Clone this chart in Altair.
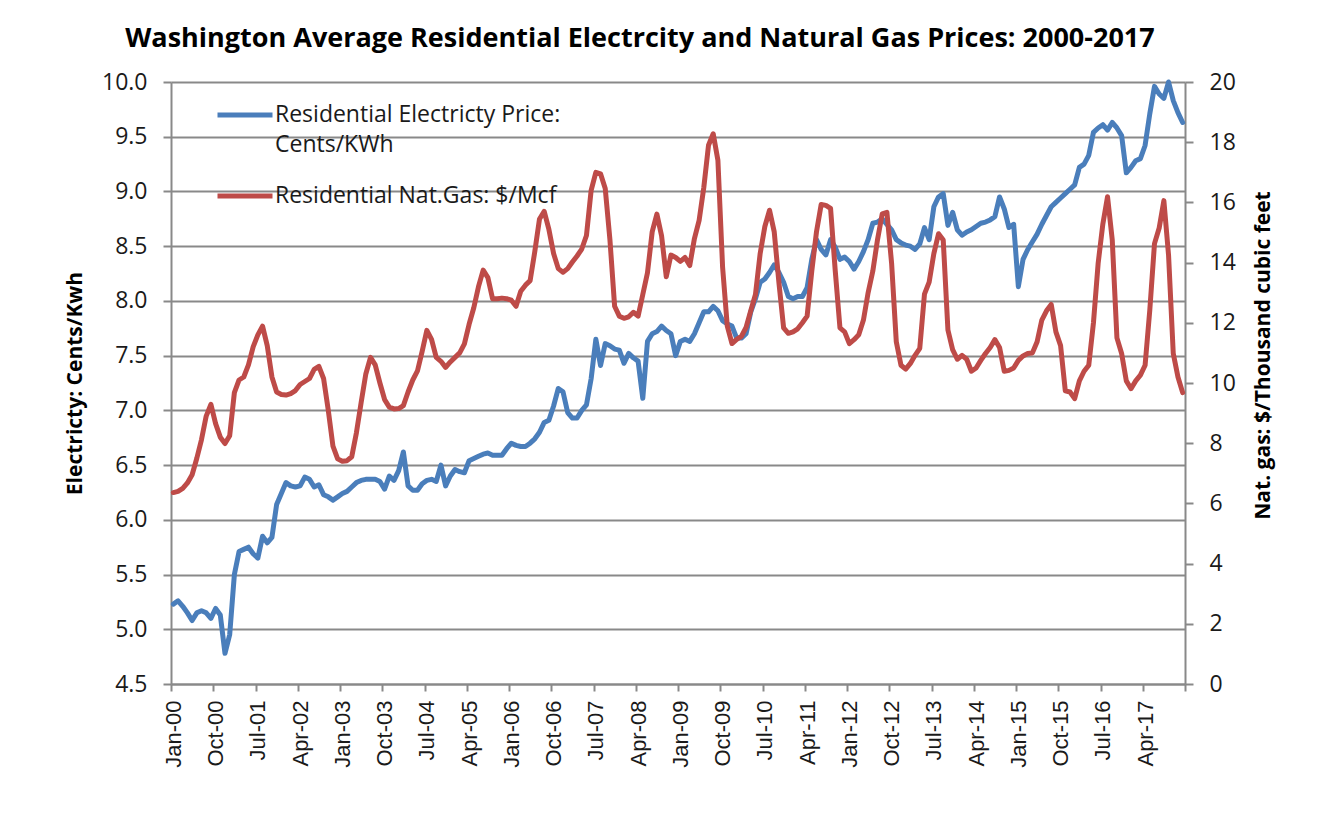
import json
import altair as alt
import pandas as pd

# ---------------- data ----------------
months = list(pd.date_range("2000-01-01", periods=216, freq="MS").strftime("%b-%y"))

elec = [
    5.23, 5.26, 5.21, 5.15, 5.08, 5.15, 5.17, 5.15, 5.10, 5.19, 5.13, 4.78,
    4.95, 5.50, 5.71, 5.73, 5.75, 5.69, 5.65, 5.85, 5.79, 5.84, 6.14, 6.24,
    6.34, 6.31, 6.30, 6.31, 6.39, 6.37, 6.30, 6.32, 6.23, 6.21, 6.18, 6.21,
    6.24, 6.26, 6.30, 6.34, 6.36, 6.37, 6.37, 6.37, 6.35, 6.28, 6.40, 6.36,
    6.45, 6.62, 6.31, 6.27, 6.27, 6.33, 6.36, 6.37, 6.35, 6.50, 6.31, 6.40,
    6.46, 6.44, 6.43, 6.54, 6.56, 6.58, 6.60, 6.61, 6.59, 6.59, 6.59, 6.65,
    6.70, 6.68, 6.67, 6.67, 6.70, 6.74, 6.80, 6.89, 6.91, 7.04, 7.20, 7.17,
    6.98, 6.93, 6.93, 7.00, 7.05, 7.29, 7.65, 7.41, 7.61, 7.59, 7.56, 7.55,
    7.43, 7.52, 7.48, 7.45, 7.11, 7.63, 7.70, 7.72, 7.77, 7.73, 7.70, 7.50,
    7.63, 7.65, 7.63, 7.70, 7.80, 7.90, 7.90, 7.95, 7.91, 7.82, 7.79, 7.77,
    7.66, 7.66, 7.70, 7.90, 8.02, 8.17, 8.20, 8.26, 8.33, 8.26, 8.17, 8.04,
    8.02, 8.04, 8.04, 8.12, 8.38, 8.56, 8.47, 8.42, 8.56, 8.49, 8.38, 8.40,
    8.36, 8.29, 8.36, 8.45, 8.56, 8.71, 8.72, 8.75, 8.70, 8.65, 8.56, 8.53,
    8.51, 8.50, 8.47, 8.52, 8.67, 8.56, 8.86, 8.95, 8.98, 8.69, 8.81, 8.65,
    8.60, 8.63, 8.65, 8.68, 8.71, 8.72, 8.74, 8.77, 8.95, 8.84, 8.67, 8.70,
    8.13, 8.38, 8.47, 8.54, 8.61, 8.70, 8.78, 8.86, 8.90, 8.94, 8.98, 9.02,
    9.06, 9.22, 9.25, 9.33, 9.54, 9.58, 9.61, 9.56, 9.63, 9.58, 9.51, 9.17,
    9.22, 9.28, 9.30, 9.42, 9.71, 9.96, 9.89, 9.85, 10.00, 9.83, 9.72, 9.63,
]

gas = [
    6.36, 6.40, 6.50, 6.68, 6.95, 7.50, 8.12, 8.90, 9.29, 8.65, 8.20, 7.99,
    8.25, 9.68, 10.10, 10.20, 10.60, 11.20, 11.60, 11.89, 11.24, 10.20, 9.70, 9.62,
    9.60, 9.65, 9.75, 9.95, 10.05, 10.15, 10.45, 10.55, 10.15, 9.10, 7.90, 7.48,
    7.40, 7.42, 7.55, 8.35, 9.35, 10.30, 10.85, 10.60, 10.00, 9.45, 9.20, 9.14,
    9.15, 9.25, 9.70, 10.10, 10.40, 11.05, 11.75, 11.45, 10.85, 10.72, 10.52, 10.70,
    10.85, 11.00, 11.30, 11.95, 12.50, 13.20, 13.75, 13.50, 12.80, 12.80, 12.82, 12.80,
    12.75, 12.55, 13.05, 13.25, 13.40, 14.37, 15.45, 15.70, 15.10, 14.30, 13.80, 13.68,
    13.80, 14.02, 14.22, 14.45, 14.90, 16.40, 17.00, 16.95, 16.46, 14.76, 12.55, 12.22,
    12.15, 12.20, 12.35, 12.22, 12.94, 13.66, 15.02, 15.61, 14.89, 13.53, 14.25, 14.17,
    14.04, 14.17, 13.90, 14.80, 15.40, 16.50, 17.90, 18.28, 17.40, 13.85, 11.89, 11.31,
    11.45, 11.55, 11.85, 12.40, 12.94, 14.30, 15.20, 15.74, 15.02, 13.33, 11.83, 11.65,
    11.70, 11.80, 12.00, 12.22, 13.72, 15.02, 15.93, 15.90, 15.80, 13.72, 11.83, 11.70,
    11.31, 11.44, 11.60, 12.09, 13.00, 13.72, 14.76, 15.62, 15.67, 13.98, 11.37, 10.59,
    10.46, 10.65, 10.92, 11.15, 12.95, 13.35, 14.30, 14.96, 14.75, 11.76, 11.11, 10.79,
    10.92, 10.79, 10.39, 10.50, 10.75, 10.98, 11.18, 11.44, 11.18, 10.39, 10.42, 10.50,
    10.75, 10.90, 10.98, 11.00, 11.37, 12.09, 12.40, 12.61, 11.70, 11.24, 9.74, 9.70,
    9.48, 10.07, 10.39, 10.59, 12.00, 13.98, 15.28, 16.19, 14.76, 11.50, 10.98, 10.07,
    9.81, 10.07, 10.26, 10.59, 12.42, 14.63, 15.15, 16.06, 14.24, 10.98, 10.20, 9.68,
]

tick_labels = [
    "Jan-00", "Oct-00", "Jul-01", "Apr-02", "Jan-03", "Oct-03", "Jul-04", "Apr-05",
    "Jan-06", "Oct-06", "Jul-07", "Apr-08", "Jan-09", "Oct-09", "Jul-10", "Apr-11",
    "Jan-12", "Oct-12", "Jul-13", "Apr-14", "Jan-15", "Oct-15", "Jul-16", "Apr-17",
]
left_ticks = [4.5, 5.0, 5.5, 6.0, 6.5, 7.0, 7.5, 8.0, 8.5, 9.0, 9.5, 10.0]
right_ticks = [0, 2, 4, 6, 8, 10, 12, 14, 16, 18, 20]

series_names = ["Residential Electricty Price:|Cents/KWh", "Residential Nat.Gas: $/Mcf"]
series_colors = ["#4A7EBB", "#BE4B48"]

# ---------------- table ----------------
df = pd.DataFrame({"idx": list(range(len(months))), "month": months, "elec": elec, "gas": gas})
df["pos"] = df["idx"] + 0.5

tick_vals = [9 * k for k in range(len(tick_labels) + 1)]
label_expr = "datum.value >= 216 ? '' : " + json.dumps(tick_labels) + "[round(datum.value / 9)]"

GRAY = "#898989"
FONT = "Open Sans"

x_enc = alt.X(
    "pos:Q",
    scale=alt.Scale(domain=[0, 216], nice=False, zero=False),
    axis=alt.Axis(
        values=tick_vals, labelExpr=label_expr, title=None, grid=False,
        labelAngle=-90, labelAlign="right", labelBaseline="middle",
        labelFont="Liberation Sans", labelFontSize=22, labelColor="#1a1a1a",
        labelPadding=9, labelOffset=2.35, tickSize=7, labelOverlap=False,
    ),
)

color_enc = alt.Color(
    "series:N",
    scale=alt.Scale(domain=series_names, range=series_colors),
    legend=alt.Legend(
        title=None, orient="none", legendX=44, legendY=3, padding=0,
        symbolType="stroke", symbolSize=3025, symbolStrokeWidth=5,
        labelExpr="split(datum.label, '|')", labelFont=FONT, labelFontSize=23,
        labelColor="#1a1a1a", labelOffset=0, rowPadding=9, labelLimit=600,
    ),
)

elec_line = alt.Chart(df).transform_calculate(
    series=json.dumps(series_names[0])
).mark_line(strokeWidth=5, strokeJoin="round", strokeCap="round").encode(
    x=x_enc,
    y=alt.Y(
        "elec:Q",
        scale=alt.Scale(domain=[4.5, 10], nice=False, zero=False),
        axis=alt.Axis(
            values=left_ticks, format=".1f", orient="left", grid=True,
            title="Electricty: Cents/Kwh", titleX=-96, titleY=301,
            titleAngle=270, titleAlign="center", titleBaseline="middle",
        ),
    ),
    color=color_enc,
    tooltip=["month:N", "elec:Q"],
)

gas_line = alt.Chart(df).transform_calculate(
    series=json.dumps(series_names[1])
).mark_line(strokeWidth=5, strokeJoin="round", strokeCap="round").encode(
    x=x_enc,
    y=alt.Y(
        "gas:Q",
        scale=alt.Scale(domain=[0, 20], nice=False, zero=False),
        axis=alt.Axis(
            values=right_ticks, format="d", orient="right", grid=False,
            title="Nat. gas: $/Thousand cubic feet", titleX=78, titleY=273,
            titleAngle=270, titleAlign="center", titleBaseline="middle",
        ),
    ),
    color=color_enc,
    tooltip=["month:N", "gas:Q"],
)

chart = (
    alt.layer(elec_line, gas_line)
    .resolve_scale(y="independent")
    .properties(
        width=1014,
        height=602,
        autosize=alt.AutoSizeParams(type="none"),
        padding={"left": 163, "top": 74, "right": 137, "bottom": 120},
        title=alt.TitleParams(
            "Washington Average Residential  Electrcity and Natural Gas Prices: 2000-2017",
            font=FONT, fontSize=27, fontWeight="bold", color="black",
            anchor="middle", dx=-38, offset=18,
        ),
    )
    .configure(style={"guide-label": {"lineHeight": 30}})
    .configure_view(stroke=None)
    .configure_axis(
        domainColor=GRAY, domainWidth=2, tickColor=GRAY, tickWidth=2, tickSize=8,
        gridColor=GRAY, gridWidth=2, gridOpacity=1,
        labelFont=FONT, labelFontSize=23, labelColor="#1a1a1a", labelPadding=16,
        titleFont=FONT, titleFontSize=21, titleFontWeight="bold", titleColor="black",
    )
)

chart.save("out.html", embed_options={"renderer": "svg", "actions": False})
